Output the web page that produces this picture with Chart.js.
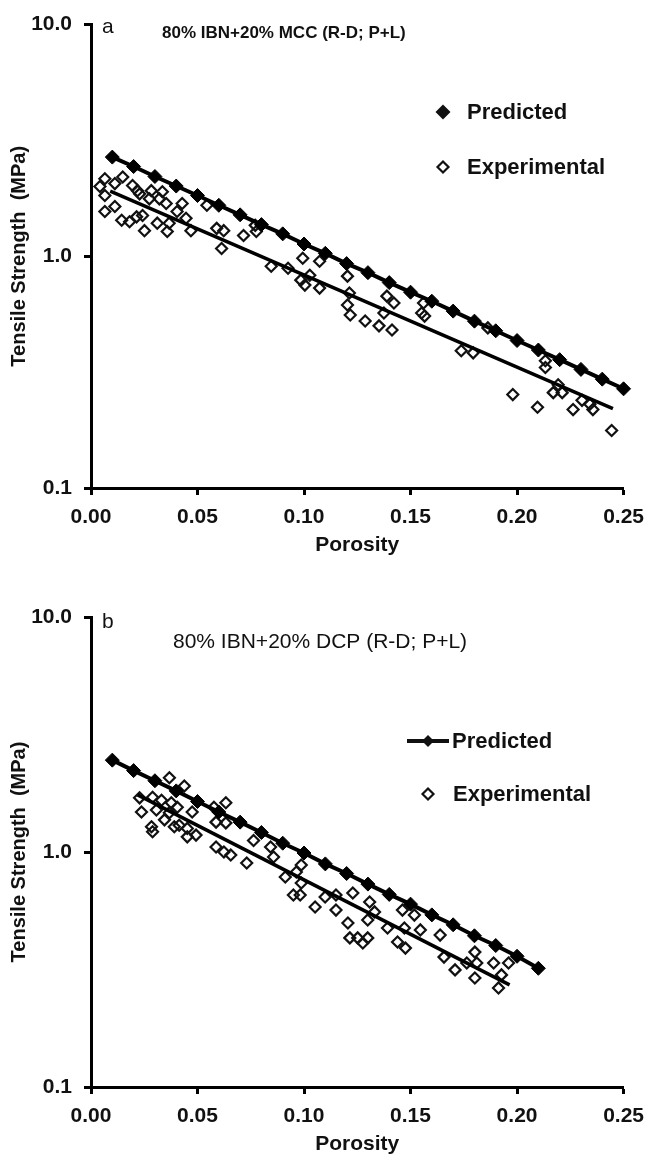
<!DOCTYPE html>
<html>
<head>
<meta charset="utf-8">
<script src="https://cdn.jsdelivr.net/npm/chart.js@4.4.1/dist/chart.umd.min.js"></script>
<style>
    body { margin: 0; background: #fff; }
    #div_a { position: relative; width: 654px; height: 575px; }
    #div_b { position: relative; width: 654px; height: 584px; }
</style>
</head>
<body>
<div id="div_a"><canvas id="ChartA"></canvas></div>
<div id="div_b"><canvas id="ChartB"></canvas></div>
<script>
// ---- panel a : 80% IBN + 20% MCC ----
var porosityPredA = [0.01, 0.02, 0.03, 0.04, 0.05, 0.06, 0.07, 0.08, 0.09, 0.10, 0.11, 0.12, 0.13,
    0.14, 0.15, 0.16, 0.17, 0.18, 0.19, 0.20, 0.21, 0.22, 0.23, 0.24, 0.25];
var tensilePredA = [2.68, 2.44, 2.21, 2.01, 1.83, 1.66, 1.51, 1.37, 1.25, 1.13, 1.03, 0.93, 0.85,
    0.77, 0.70, 0.64, 0.58, 0.525, 0.477, 0.433, 0.394, 0.358, 0.325, 0.295, 0.268];
var porosityExpA = [0.0065, 0.0149, 0.0042, 0.0065, 0.0112, 0.0195, 0.0218, 0.0228, 0.0283, 0.0335,
    0.0274, 0.0321, 0.0353, 0.0428, 0.0065, 0.0112, 0.0144, 0.0181, 0.0214, 0.0242,
    0.0251, 0.0311, 0.0358, 0.0367, 0.0404, 0.0446, 0.0469, 0.0544, 0.0590, 0.0623,
    0.0716, 0.0613, 0.0771, 0.0776, 0.0846, 0.0925, 0.0994, 0.1073, 0.1027, 0.0985,
    0.1004, 0.1073, 0.1204, 0.1213, 0.1204, 0.1217, 0.1287, 0.1352, 0.1413, 0.1375,
    0.1389, 0.1422, 0.1561, 0.1552, 0.1566, 0.1738, 0.1794, 0.2133, 0.2133, 0.1980,
    0.2096, 0.2170, 0.2212, 0.2193, 0.2263, 0.2305, 0.2356, 0.2342, 0.2444, 0.1863];
var tensileExpA = [2.16, 2.20, 2.00, 1.83, 2.06, 2.02, 1.92, 1.86, 1.92, 1.90,
    1.77, 1.77, 1.69, 1.69, 1.56, 1.64, 1.43, 1.41, 1.48, 1.50,
    1.29, 1.39, 1.28, 1.39, 1.56, 1.46, 1.29, 1.66, 1.32, 1.29,
    1.23, 1.08, 1.36, 1.28, 0.906, 0.888, 0.981, 0.952, 0.828, 0.789,
    0.751, 0.729, 0.821, 0.694, 0.616, 0.558, 0.526, 0.501, 0.481, 0.569,
    0.673, 0.629, 0.629, 0.569, 0.552, 0.391, 0.383, 0.354, 0.331, 0.253,
    0.223, 0.258, 0.258, 0.279, 0.218, 0.239, 0.218, 0.230, 0.177, 0.491];
var porosityFitA = [0.009, 0.245];
var tensileFitA = [1.91, 0.22];

// ---- panel b : 80% IBN + 20% DCP ----
var porosityPredB = [0.01, 0.02, 0.03, 0.04, 0.05, 0.06, 0.07, 0.08, 0.09, 0.10, 0.11,
    0.12, 0.13, 0.14, 0.15, 0.16, 0.17, 0.18, 0.19, 0.20, 0.21];
var tensilePredB = [2.46, 2.22, 2.01, 1.82, 1.64, 1.48, 1.34, 1.21, 1.09, 0.99, 0.89,
    0.81, 0.73, 0.66, 0.60, 0.54, 0.49, 0.44, 0.40, 0.36, 0.32];
var porosityExpB = [0.0368, 0.0438, 0.0228, 0.0289, 0.0331, 0.0377, 0.0405, 0.0237, 0.0307, 0.0368,
    0.0475, 0.0284, 0.0289, 0.0345, 0.0391, 0.0452, 0.0414, 0.0452, 0.0493, 0.0633,
    0.0577, 0.0587, 0.0633, 0.0587, 0.0624, 0.0656, 0.0731, 0.0763, 0.0843, 0.0857,
    0.0987, 0.0912, 0.0964, 0.0987, 0.0950, 0.0982, 0.1052, 0.1099, 0.1150, 0.1150,
    0.1229, 0.1308, 0.1331, 0.1206, 0.1299, 0.1215, 0.1252, 0.1299, 0.1276, 0.1392,
    0.1439, 0.1476, 0.1471, 0.1546, 0.1639, 0.1462, 0.1518, 0.1657, 0.1709, 0.1764,
    0.1802, 0.1811, 0.1802, 0.1890, 0.1927, 0.1913, 0.1960];
var tensileExpB = [2.07, 1.91, 1.70, 1.71, 1.66, 1.62, 1.55, 1.48, 1.51, 1.47,
    1.48, 1.28, 1.22, 1.37, 1.28, 1.26, 1.30, 1.16, 1.18, 1.62,
    1.55, 1.34, 1.33, 1.05, 1.00, 0.971, 0.898, 1.12, 1.05, 0.952,
    0.881, 0.783, 0.822, 0.738, 0.656, 0.656, 0.583, 0.644, 0.656, 0.566,
    0.669, 0.613, 0.556, 0.499, 0.514, 0.431, 0.431, 0.431, 0.410, 0.475,
    0.414, 0.390, 0.475, 0.466, 0.443, 0.566, 0.539, 0.357, 0.315, 0.337,
    0.375, 0.337, 0.291, 0.337, 0.300, 0.264, 0.337];
var porosityFitB = [0.0219, 0.1965];
var tensileFitB = [1.75, 0.272];

var xTicks = [0, 0.05, 0.10, 0.15, 0.20, 0.25];
var yTicks = [0.1, 1, 10];

var FONT = "'Liberation Sans', Arial, sans-serif";

function toPoints(xs, ys) {
    var pts = [];
    for (var i = 0; i < xs.length; i++) {
        pts.push({ x: xs[i], y: ys[i] });
    }
    return pts;
}

function diamond(ctx, x, y, r, filled) {
    ctx.beginPath();
    ctx.moveTo(x, y - r);
    ctx.lineTo(x + r, y);
    ctx.lineTo(x, y + r);
    ctx.lineTo(x - r, y);
    ctx.closePath();
    if (filled) {
        ctx.fill();
    } else {
        ctx.lineWidth = 2.2;
        ctx.stroke();
    }
}

// panel letter, title and the hand placed legend
var panelDecor = {
    id: 'panelDecor',
    afterDraw: function (chart, args, opts) {
        var ctx = chart.ctx;
        ctx.save();
        ctx.fillStyle = '#111';
        ctx.strokeStyle = '#111';
        ctx.textAlign = 'left';
        ctx.textBaseline = 'alphabetic';

        ctx.font = '21px ' + FONT;
        ctx.fillText(opts.letter, 102, opts.letterY);
        ctx.font = opts.titleFont;
        ctx.fillText(opts.title, opts.titleX, opts.titleY);

        ctx.font = 'bold 22px ' + FONT;
        ctx.textBaseline = 'middle';
        if (opts.legendLine) {
            ctx.lineWidth = 4;
            ctx.beginPath();
            ctx.moveTo(opts.predMarkX - 21, opts.predY);
            ctx.lineTo(opts.predMarkX + 21, opts.predY);
            ctx.stroke();
            diamond(ctx, opts.predMarkX, opts.predY, 6, true);
        } else {
            diamond(ctx, opts.predMarkX, opts.predY, 7.5, true);
        }
        ctx.fillText('Predicted', opts.predTextX, opts.predY + 1);
        diamond(ctx, opts.expMarkX, opts.expY, 5.5, false);
        ctx.fillText('Experimental', opts.expTextX, opts.expY + 1);
        ctx.restore();
    }
};

function drawPanel(canvasId, pred, exp, fit, pad, decor) {
    var ctx = document.getElementById(canvasId);
    return new Chart(ctx, {
        type: 'scatter',
        data: {
            datasets: [{
                label: 'Predicted',
                data: pred,
                showLine: true,
                borderColor: '#000',
                backgroundColor: '#000',
                borderWidth: 4,
                pointStyle: 'rectRot',
                pointRadius: 7,
                pointBorderWidth: 1,
                clip: false,
                order: 1
            }, {
                label: 'Experimental',
                data: exp,
                showLine: false,
                borderColor: '#111',
                backgroundColor: 'rgba(0,0,0,0)',
                pointStyle: 'rectRot',
                pointRadius: 5.5,
                pointBorderWidth: 2.2,
                clip: false,
                order: 3
            }, {
                label: 'fit',
                data: fit,
                showLine: true,
                borderColor: '#000',
                borderWidth: 3.5,
                pointRadius: 0,
                clip: false,
                order: 2
            }]
        },
        plugins: [panelDecor],
        options: {
            responsive: true,
            maintainAspectRatio: false,
            animation: false,
            layout: { padding: pad },
            scales: {
                x: {
                    type: 'linear',
                    min: 0,
                    max: 0.25,
                    afterBuildTicks: function (scale) {
                        scale.ticks = xTicks.map(function (v) { return { value: v }; });
                    },
                    afterFit: function (scale) { scale.height = 70; },
                    border: { display: true, color: '#000', width: 3 },
                    grid: { drawOnChartArea: false, drawTicks: true, tickLength: 7, tickWidth: 3, tickColor: '#000' },
                    ticks: {
                        padding: 10,
                        color: '#111',
                        font: { family: FONT, size: 21, weight: 'bold' },
                        maxRotation: 0,
                        callback: function (value) { return value.toFixed(2); }
                    },
                    title: {
                        display: true,
                        text: 'Porosity',
                        color: '#111',
                        padding: { top: 0, bottom: 0 },
                        font: { family: FONT, size: 21, weight: 'bold' }
                    }
                },
                y: {
                    type: 'logarithmic',
                    min: 0.1,
                    max: 10,
                    afterBuildTicks: function (scale) {
                        scale.ticks = yTicks.map(function (v) { return { value: v }; });
                    },
                    afterFit: function (scale) { scale.width = 91; },
                    border: { display: true, color: '#000', width: 3 },
                    grid: { drawOnChartArea: false, drawTicks: true, tickLength: 7, tickWidth: 3, tickColor: '#000' },
                    ticks: {
                        padding: 12,
                        color: '#111',
                        font: { family: FONT, size: 21, weight: 'bold' },
                        callback: function (value) { return Number(value).toFixed(1); }
                    },
                    title: {
                        display: true,
                        text: 'Tensile Strength  (MPa)',
                        color: '#111',
                        padding: { top: 7, bottom: 0 },
                        font: { family: FONT, size: 20, weight: 'bold' }
                    }
                }
            },
            plugins: {
                legend: { display: false },
                tooltip: { enabled: false },
                panelDecor: decor
            }
        }
    });
}

drawPanel('ChartA',
    toPoints(porosityPredA, tensilePredA),
    toPoints(porosityExpA, tensileExpA),
    toPoints(porosityFitA, tensileFitA),
    { top: 22, right: 25, bottom: 17, left: 0 },
    {
        letter: 'a', letterY: 33,
        title: '80% IBN+20% MCC (R-D; P+L)', titleFont: 'bold 17px ' + FONT, titleX: 162, titleY: 38,
        legendLine: false,
        predMarkX: 443, predY: 112, predTextX: 467,
        expMarkX: 443, expY: 167, expTextX: 467
    });

drawPanel('ChartB',
    toPoints(porosityPredB, tensilePredB),
    toPoints(porosityExpB, tensileExpB),
    toPoints(porosityFitB, tensileFitB),
    { top: 42, right: 27, bottom: 2, left: 0 },
    {
        letter: 'b', letterY: 53,
        title: '80% IBN+20% DCP (R-D; P+L)', titleFont: '21px ' + FONT, titleX: 173, titleY: 73,
        legendLine: true,
        predMarkX: 428, predY: 166, predTextX: 452,
        expMarkX: 428, expY: 219, expTextX: 453
    });
</script>
</body>
</html>
